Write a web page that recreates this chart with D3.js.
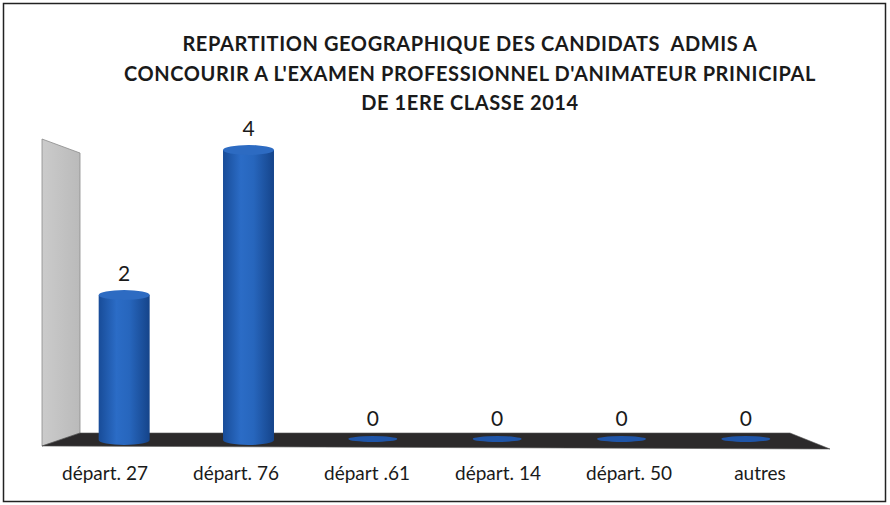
<!DOCTYPE html>
<html>
<head>
<meta charset="utf-8">
<script src="https://cdn.jsdelivr.net/npm/d3@7"></script>
<style>
  body { margin: 0; background: #fff; }
  text { font-family: Lato, "Open Sans", sans-serif; fill: #1a1a1a; }
</style>
</head>
<body>
<svg id="chart" width="890" height="505"></svg>
<script>
var categories = ["départ. 27", "départ. 76", "départ .61", "départ. 14", "départ. 50", "autres"];
var values = [2, 4, 0, 0, 0, 0];
var titleLines = [
  "REPARTITION GEOGRAPHIQUE DES CANDIDATS  ADMIS A",
  "CONCOURIR A L'EXAMEN PROFESSIONNEL D'ANIMATEUR PRINICIPAL",
  "DE 1ERE CLASSE 2014"
];

var svg = d3.select("#chart");

// frame
svg.append("rect")
  .attr("x", 3.5).attr("y", 3.5)
  .attr("width", 882).attr("height", 498)
  .attr("fill", "none")
  .attr("stroke", "#222")
  .attr("stroke-width", 1.5);

// title
svg.selectAll("text.title")
  .data(titleLines)
  .enter()
  .append("text")
  .classed("title", true)
  .attr("x", 470)
  .attr("y", function(d, i) { return 51 + i * 29.5; })
  .attr("text-anchor", "middle")
  .style("font-weight", "bold")
  .style("font-size", "20px")
  .style("letter-spacing", "0.6px")
  .style("white-space", "pre")
  .text(function(d) { return d; });

// bars sit on the back of the floor, labels along its front edge
var x = d3.scaleBand()
  .domain(categories)
  .range([62, 808])
  .paddingInner(0.59)
  .paddingOuter(0.295);

var xLabel = d3.scaleBand()
  .domain(categories)
  .range([39.5, 825.5]);

var y = d3.scaleLinear()
  .domain([0, 4])
  .range([440, 150]);

var defs = svg.append("defs");
var grad = defs.append("linearGradient")
  .attr("id", "cyl")
  .attr("x1", "0%").attr("x2", "100%").attr("y1", "0%").attr("y2", "0%");
grad.append("stop").attr("offset", "0%").attr("stop-color", "#184c98");
grad.append("stop").attr("offset", "35%").attr("stop-color", "#2b6cc6");
grad.append("stop").attr("offset", "60%").attr("stop-color", "#2766bd");
grad.append("stop").attr("offset", "100%").attr("stop-color", "#15448a");

var wallGrad = defs.append("linearGradient")
  .attr("id", "wall")
  .attr("x1", "0%").attr("x2", "100%");
wallGrad.append("stop").attr("offset", "0%").attr("stop-color", "#cbcbcb");
wallGrad.append("stop").attr("offset", "100%").attr("stop-color", "#bababa");

// back wall
svg.append("path")
  .attr("d", "M42,139 L80,153 L80,433 L42,446 Z")
  .attr("fill", "url(#wall)")
  .attr("stroke", "#8a8a8a")
  .attr("stroke-width", 0.8);

// floor
svg.append("path")
  .attr("d", "M80,433 L790,433 L830,449 L42,446 Z")
  .attr("fill", "#2c2a2b")
  .attr("stroke", "#555")
  .attr("stroke-width", 0.6);

var rx = x.bandwidth() / 2;
var ry = 5;

var bars = svg.append("g").selectAll("g.bar")
  .data(categories.map(function(c, i) { return { cat: c, val: values[i] }; }))
  .enter()
  .append("g")
  .classed("bar", true);

bars.filter(function(d) { return d.val > 0; })
  .append("path")
  .attr("d", function(d) {
    var x0 = x(d.cat), x1 = x0 + x.bandwidth();
    var top = y(d.val), bot = y(0);
    return "M" + x0 + "," + top + " L" + x0 + "," + bot +
      " A" + rx + "," + ry + " 0 0 0 " + x1 + "," + bot +
      " L" + x1 + "," + top + " Z";
  })
  .attr("fill", "url(#cyl)");

bars.filter(function(d) { return d.val > 0; })
  .append("ellipse")
  .attr("cx", function(d) { return x(d.cat) + rx; })
  .attr("cy", function(d) { return y(d.val); })
  .attr("rx", rx)
  .attr("ry", ry)
  .attr("fill", "#2d6bc2");

bars.filter(function(d) { return d.val === 0; })
  .append("ellipse")
  .attr("cx", function(d) { return x(d.cat) + rx; })
  .attr("cy", y(0) - 1)
  .attr("rx", rx - 1)
  .attr("ry", 3)
  .attr("fill", "#1f55a8");

// value labels
bars.append("text")
  .attr("x", function(d) { return x(d.cat) + rx; })
  .attr("y", function(d) { return y(d.val) - 14; })
  .attr("text-anchor", "middle")
  .style("font-size", "21px")
  .text(function(d) { return d.val; });

// category labels
svg.append("g").selectAll("text.cat")
  .data(categories)
  .enter()
  .append("text")
  .classed("cat", true)
  .attr("x", function(d) { return xLabel(d) + xLabel.bandwidth() / 2; })
  .attr("y", 480)
  .attr("text-anchor", "middle")
  .style("font-size", "19px")
  .text(function(d) { return d; });
</script>
</body>
</html>
